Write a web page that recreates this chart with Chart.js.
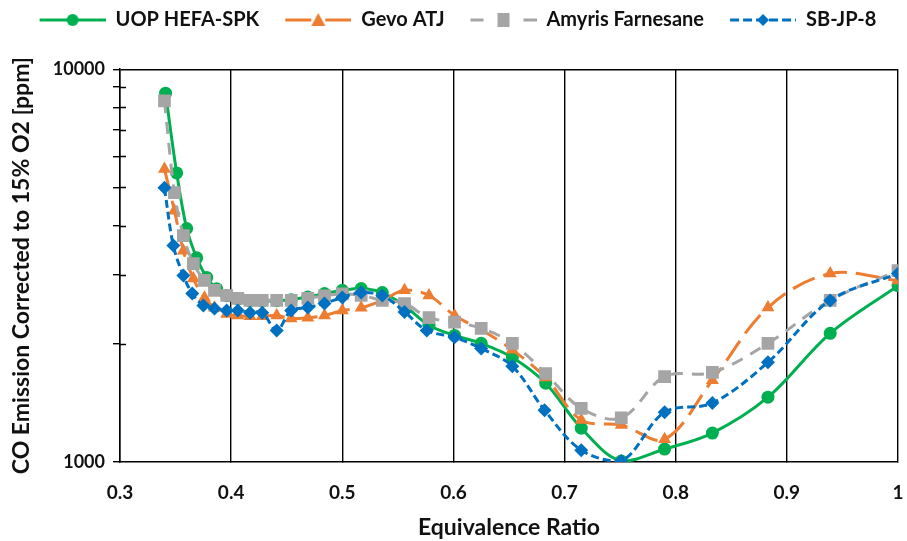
<!DOCTYPE html>
<html>
<head>
<meta charset="utf-8">
<script src="https://cdn.jsdelivr.net/npm/chart.js@4"></script>
<style>
  html, body { margin: 0; padding: 0; background: #fff; }
  #wrap { width: 907px; height: 541px; }
</style>
</head>
<body>
<div id="wrap"><canvas id="chart-co" width="907" height="541"></canvas></div>
<script>
'use strict';

// equivalence ratio (x) and CO [ppm] (y)
const uopPhi = [0.341,0.351,0.360,0.369,0.378,0.387,0.396,0.406,0.417,0.428,0.441,0.454,0.469,0.484,0.500,0.517,0.536,0.556,0.578,0.601,0.625,0.653,0.683,0.715,0.751,0.790,0.833,0.883,0.939,1.000];
const uopCO  = [8690,5445,3930,3310,2950,2760,2650,2600,2570,2570,2575,2590,2630,2685,2735,2765,2700,2500,2230,2100,2005,1846,1587,1219,1006,1079,1185,1462,2126,2812];

const gevoPhi = [0.340,0.349,0.357,0.366,0.376,0.385,0.396,0.406,0.417,0.428,0.441,0.454,0.469,0.484,0.500,0.517,0.536,0.556,0.578,0.601,0.625,0.653,0.683,0.715,0.751,0.790,0.833,0.883,0.939,1.000];
const gevoCO  = [5570,4360,3450,2930,2620,2470,2380,2360,2350,2350,2360,2320,2330,2360,2430,2470,2580,2735,2654,2360,2170,1930,1640,1279,1242,1143,1615,2473,3017,2897];

const amyrisPhi = [0.340,0.349,0.357,0.366,0.376,0.385,0.396,0.406,0.417,0.428,0.441,0.454,0.469,0.484,0.500,0.517,0.536,0.556,0.578,0.601,0.625,0.653,0.683,0.715,0.751,0.790,0.833,0.883,0.939,1.000];
const amyrisCO  = [8300,4850,3770,3200,2900,2735,2654,2610,2580,2580,2580,2580,2610,2650,2680,2654,2580,2530,2330,2270,2190,2005,1680,1370,1295,1650,1690,2005,2580,3070];

const sbPhi = [0.340,0.348,0.357,0.365,0.375,0.385,0.396,0.406,0.417,0.428,0.441,0.454,0.469,0.484,0.500,0.517,0.536,0.556,0.576,0.601,0.625,0.653,0.682,0.715,0.751,0.790,0.833,0.883,0.939,1.000];
const sbCO  = [4990,3556,2984,2685,2502,2459,2431,2431,2400,2400,2162,2431,2473,2533,2624,2700,2654,2410,2162,2077,1945,1753,1355,1072,1006,1339,1413,1794,2578,3017];

const seriesNames = ['UOP HEFA-SPK','Gevo ATJ','Amyris Farnesane','SB-JP-8'];
const xTicks = [0.3,0.4,0.5,0.6,0.7,0.8,0.9,1.0];
const yLabelled = [1000,10000];
const yMinor = [2000,3000,4000,5000,6000,7000,8000,9000];

const FONT = 'Lato, "Open Sans", sans-serif';
const INK = '#111';

// order: excel paints later series on top, so SB-JP-8 ends up uppermost
const styles = [
  {color:'#00B050', dash:[],      point:'circle',   radius:6.5, order:3},
  {color:'#ED7D31', dash:[24,9],  point:'triangle', radius:7.5, order:2},
  {color:'#A5A5A5', dash:[12,9],  point:'rect',     radius:9,   order:1},
  {color:'#0070C0', dash:[8,4],   point:'rectRot',  radius:7,   order:0},
];

const toPts = (xs,ys)=>xs.map((x,i)=>({x, y:ys[i]}));
const seriesData = [toPts(uopPhi,uopCO), toPts(gevoPhi,gevoCO), toPts(amyrisPhi,amyrisCO), toPts(sbPhi,sbCO)];

// legend icon: line + marker, with empty lead-in used as spacing between items
function legendIcon(s, idx) {
  const lead = 16, w = 66 + lead, h = 18;
  const c = document.createElement('canvas');
  c.width = w; c.height = h;
  const g = c.getContext('2d');
  g.strokeStyle = s.color; g.fillStyle = s.color; g.lineWidth = 3;
  const cy = h/2, cx = lead + 33;
  g.beginPath();
  if (idx === 1) { g.moveTo(lead,cy); g.lineTo(cx-7,cy); g.moveTo(cx+7,cy); g.lineTo(w,cy); }
  else if (idx === 2) { g.moveTo(lead,cy); g.lineTo(lead+13,cy); g.moveTo(w-13,cy); g.lineTo(w,cy); }
  else if (idx === 3) { g.setLineDash([9,4]); g.moveTo(lead,cy); g.lineTo(w,cy); }
  else { g.moveTo(lead,cy); g.lineTo(w,cy); }
  g.stroke();
  g.setLineDash([]);
  g.beginPath();
  if (s.point === 'circle') g.arc(cx,cy,6,0,Math.PI*2);
  else if (s.point === 'triangle') { g.moveTo(cx,cy-7); g.lineTo(cx+7,cy+6); g.lineTo(cx-7,cy+6); g.closePath(); }
  else if (s.point === 'rect') g.rect(cx-6,cy-7,12,14);
  else { g.moveTo(cx,cy-6); g.lineTo(cx+6,cy); g.lineTo(cx,cy+6); g.lineTo(cx-6,cy); g.closePath(); }
  g.fill();
  return c;
}
const icons = styles.map(legendIcon);

// inner half of the minor ticks on the log axis (they cross the axis line)
const minorTicks = {
  id:'minorTicks',
  afterDraw(chart) {
    const y = chart.scales.y, ctx = chart.ctx;
    ctx.save();
    ctx.strokeStyle = '#000'; ctx.lineWidth = 1.3;
    ctx.beginPath();
    yMinor.forEach(v=>{
      const py = Math.round(y.getPixelForValue(v)) + 0.5;
      ctx.moveTo(y.right, py); ctx.lineTo(y.right + 6, py);
    });
    ctx.stroke();
    ctx.restore();
  }
};

new Chart(document.getElementById('chart-co'), {
  type:'line',
  data:{
    datasets: seriesData.map((d,i)=>({
      label: seriesNames[i],
      data: d,
      order: styles[i].order,
      borderColor: styles[i].color,
      backgroundColor: styles[i].color,
      borderWidth: 3,
      borderDash: styles[i].dash,
      tension: 0.35,
      pointStyle: styles[i].point,
      pointRadius: styles[i].radius,
      pointBorderWidth: 0,
      pointBackgroundColor: styles[i].color,
      fill: false,
    }))
  },
  options:{
    responsive:false,
    animation:false,
    layout:{padding:{top:0,right:7,bottom:0,left:0}},
    plugins:{
      tooltip:{enabled:false},
      legend:{
        position:'top',
        labels:{
          usePointStyle:true,
          pointStyleWidth:82,
          boxHeight:18,
          padding:10,
          color:INK,
          font:{family:FONT,size:20,weight:'bold'},
          generateLabels: chart => chart.data.datasets.map((ds,i)=>({
            text: ds.label, pointStyle: icons[i], fillStyle: ds.borderColor,
            strokeStyle: ds.borderColor, lineWidth:0, hidden:false, datasetIndex:i, fontColor: INK
          }))
        }
      },
      subtitle:{display:true, text:'', weight:100, font:{size:1}, padding:{top:0,bottom:28}}
    },
    scales:{
      x:{
        type:'linear', min:0.3, max:1.0,
        afterBuildTicks: s => { s.ticks = xTicks.map(v=>({value:v})); },
        ticks:{
          color:INK, padding:19,
          font:{family:FONT,size:19,weight:'bold'},
          callback: v => String(Number(v.toFixed(1)))
        },
        grid:{color:'#000', lineWidth:1.4, tickLength:0},
        border:{color:'#000', width:1.5},
        title:{display:true, text:'Equivalence Ratio', color:INK,
          font:{family:FONT,size:23,weight:'bold'}, padding:{top:0,bottom:0}},
        afterFit: s => { s.height = 79; s.paddingLeft = 0; s.paddingRight = 0; }
      },
      y:{
        type:'logarithmic', min:1000, max:10000,
        afterBuildTicks: s => { s.ticks = [...yLabelled, ...yMinor].sort((a,b)=>a-b).map(v=>({value:v})); },
        ticks:{
          color:INK, padding:8,
          font:{family:FONT,size:18,weight:'bold'},
          callback: v => yLabelled.includes(v) ? String(v) : ''
        },
        grid:{
          color: c => (c.tick && c.tick.value === 10000) ? '#000' : 'rgba(0,0,0,0)',
          lineWidth:1.4, tickColor:'#000', tickLength:7
        },
        border:{color:'#000', width:1.5},
        title:{display:true, text:'CO Emission Corrected to 15% O2 [ppm]', color:INK,
          font:{family:FONT,size:23,weight:'bold'}, padding:{top:8,bottom:0}},
        afterFit: s => { s.width = 120; }
      }
    }
  },
  plugins:[minorTicks]
});
</script>
</body>
</html>
